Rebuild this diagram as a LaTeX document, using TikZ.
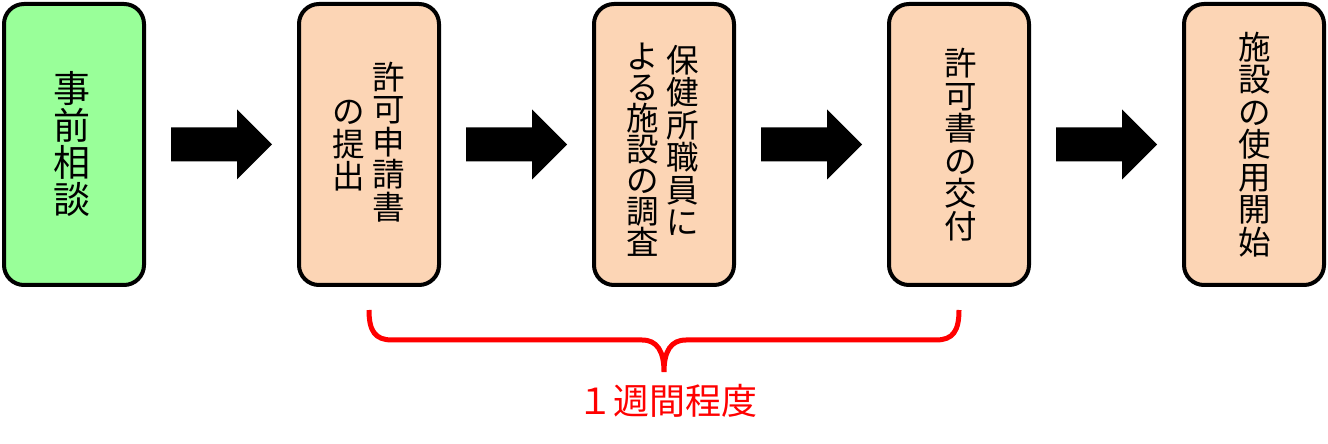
\documentclass[tikz,border=0pt]{standalone}
\usepackage{tikz}
\usepackage{fontspec}
\newfontfamily\jpfont{Noto Sans CJK JP}
\usetikzlibrary{positioning,calc}

\definecolor{boxgreen}{HTML}{99FF99}
\definecolor{boxpeach}{HTML}{FCD5B5}

\begin{document}
\begin{tikzpicture}[
    x=1pt, y=1pt,
    box/.style={draw, rectangle, rounded corners=20pt, minimum width=140pt, minimum height=281pt, line width=4pt, fill=boxpeach},
    vtext/.style={align=center, inner sep=0pt, font=\jpfont\fontsize{32.5}{32.5}\selectfont},
    blockarrow/.style={fill=black},
    brace/.style={draw=red, line width=5pt}
]
\useasboundingbox (0,0) rectangle (1328,444);

% Steps
\node[box, fill=boxgreen] (B1) at (74, 299.5) {};
\node[box] (B2) at (369, 299.5) {};
\node[box] (B3) at (664, 299.5) {};
\node[box] (B4) at (959, 299.5) {};
\node[box] (B5) at (1254, 299.5) {};

% Vertical texts
\node[vtext, font=\jpfont\fontsize{37}{37}\selectfont] (T1) at (72, 300.5) {事\\前\\相\\談};
\node[vtext] (T2a) at (389, 302) {許\\可\\申\\請\\書};
\node[vtext] (T2b) at (349, 298) {の\\提\\出};
\node[vtext] (T3a) at (683, 303.5) {保\\健\\所\\職\\員\\に};
\node[vtext, font=\jpfont\fontsize{32.5}{31}\selectfont] (T3b) at (643, 294.5) {よ\\る\\施\\設\\の\\調\\査};
\node[vtext] (T4) at (961, 299.5) {許\\可\\書\\の\\交\\付};
\node[vtext] (T5) at (1255, 299.5) {施\\設\\の\\使\\用\\開\\始};

% Arrows between steps
\foreach \a/\b in {B1/B2, B2/B3, B3/B4, B4/B5}
  \fill[blockarrow] ($(\a.east)!0.5!(\b.west)$) ++(-50.5,-17) -- ++(66,0) -- ++(0,-18)
    -- ++(35,35) -- ++(-35,35) -- ++(0,-18) -- ++(-66,0) -- cycle;

% Brace under steps 2 to 4
\coordinate (BrL) at ($(B2.south)+(0,-23)$);
\coordinate (BrM) at ($(B3.south)+(0,-85)$);
\coordinate (BrR) at ($(B4.south)+(0,-23)$);
\draw[brace] (BrL) .. controls ++(0,-21) and ++(-17,0) .. ($(BrL)+(23,-30)$)
  -- ($(BrM)+(-22,32)$) .. controls ++(15,0) and ++(0,21) .. (BrM)
  .. controls ++(0,21) and ++(-15,0) .. ($(BrM)+(22,32)$)
  -- ($(BrR)+(-23,-30)$) .. controls ++(17,0) and ++(0,-21) .. (BrR);

% Duration label
\node[font=\jpfont\fontsize{36}{36}\selectfont, text=red, inner sep=0pt] (L) at (667.5, 43) {１週間程度};

\end{tikzpicture}
\end{document}
